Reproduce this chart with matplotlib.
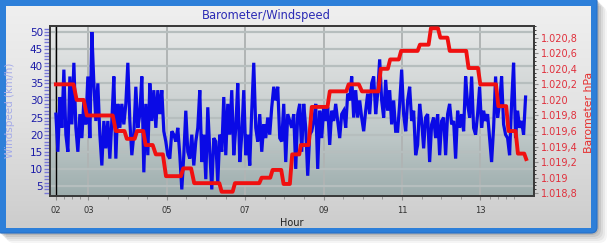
import numpy as np
import matplotlib
matplotlib.use('Agg')
import matplotlib.pyplot as plt
from matplotlib.patches import FancyBboxPatch
from matplotlib.colors import LinearSegmentedColormap
from matplotlib.ticker import FuncFormatter, MultipleLocator, FixedLocator

# windspeed readings (km/h), one every ~3 minutes from about 02:10
wind_start = 2.17
wind_step = 0.051
windspeed = [
    26, 15, 31, 22, 39, 20, 15, 37, 23, 41, 22, 15, 26, 19, 30, 23, 37, 19, 50, 35, 24, 35, 20, 11, 24, 16, 24, 13, 24, 37,
    13, 29, 22, 29, 23, 29, 41, 24, 14, 20, 34, 22, 26, 37, 9, 29, 14, 35, 24, 33, 22, 33, 26, 33, 21, 18, 14, 13, 21, 20,
    18, 22, 14, 4, 14, 27, 15, 13, 20, 11, 18, 22, 33, 12, 20, 7, 28, 15, 4, 19, 18, 6, 20, 15, 31, 14, 29, 20, 33, 14,
    22, 35, 12, 20, 33, 14, 20, 11, 27, 41, 22, 18, 26, 15, 23, 19, 25, 20, 28, 34, 30, 34, 19, 18, 29, 12, 26, 24, 22, 26,
    10, 26, 29, 15, 29, 22, 8, 20, 21, 24, 29, 10, 27, 19, 28, 24, 28, 17, 27, 24, 29, 24, 19, 26, 27, 22, 32, 30, 37, 25,
    33, 25, 30, 25, 21, 27, 32, 26, 35, 37, 26, 32, 42, 30, 25, 36, 27, 33, 23, 30, 21, 21, 29, 39, 26, 21, 30, 34, 24, 27,
    14, 17, 29, 24, 16, 25, 26, 12, 23, 25, 19, 26, 14, 24, 25, 14, 26, 29, 23, 24, 13, 27, 22, 26, 21, 37, 29, 25, 37, 22,
    20, 26, 34, 22, 27, 24, 26, 19, 12, 22, 37, 25, 29, 37, 23, 20, 19, 14, 29, 41, 19, 27, 22, 24, 20, 31,
]

# barometer (hPa), readings at the corners of each step
baro_hours = [
    2.17, 2.62, 2.70, 2.88, 2.96, 3.62, 3.70, 3.92, 3.98, 4.18, 4.24, 4.40, 4.46, 4.64, 4.72, 4.90,
    4.98, 5.36, 5.42, 5.62, 5.70, 6.34, 6.40, 6.68, 6.74, 7.36, 7.42, 7.64, 7.70, 7.92, 7.98, 8.14,
    8.20, 8.38, 8.42, 8.62, 8.70, 9.10, 9.16, 9.58, 9.64, 9.90, 9.98, 10.40, 10.46, 10.64, 10.70,
    10.92, 10.98, 11.40, 11.46, 11.68, 11.74, 11.92, 11.98, 12.16, 12.22, 12.64, 12.70, 12.94, 13.00,
    13.40, 13.46, 13.66, 13.72, 13.90, 13.96, 14.12, 14.17,
]
baro_hpa = [
    1020.2, 1020.2, 1020.0, 1020.0, 1019.8, 1019.8, 1019.6, 1019.6, 1019.5, 1019.5, 1019.6, 1019.6, 1019.42, 1019.42, 1019.3, 1019.3,
    1019.02, 1019.02, 1019.12, 1019.12, 1018.93, 1018.93, 1018.82, 1018.82, 1018.93, 1018.93, 1019.0, 1019.0, 1019.1, 1019.1, 1018.92, 1018.92,
    1019.3, 1019.3, 1019.42, 1019.42, 1019.91, 1019.91, 1020.11, 1020.11, 1020.2, 1020.2, 1020.11, 1020.11, 1020.4, 1020.4, 1020.52,
    1020.52, 1020.63, 1020.63, 1020.71, 1020.71, 1020.92, 1020.92, 1020.8, 1020.8, 1020.63, 1020.63, 1020.41, 1020.41, 1020.2,
    1020.2, 1019.92, 1019.92, 1019.6, 1019.6, 1019.31, 1019.31, 1019.24,
]

x_ticks = [2.17, 3, 5, 7, 9, 11, 13]
x_labels = ['02', '03', '05', '07', '09', '11', '13']
x_minor = [2.38, 2.59, 2.79, 3.5, 4, 4.5, 5.5, 6, 6.5, 7.5, 8, 8.5, 9.5, 10, 10.5, 11.5, 12, 12.5, 13.25, 13.45, 13.65, 13.85]
wind_ticks = [5, 10, 15, 20, 25, 30, 35, 40, 45, 50]
baro_ticks = [1018.8, 1019.0, 1019.2, 1019.4, 1019.6, 1019.8, 1020.0, 1020.2, 1020.4, 1020.6, 1020.8]

W, H = 611, 246
fig = plt.figure(figsize=(W / 100, H / 100), dpi=100, facecolor='white')

# window frame with shadow
bg = fig.add_axes([0, 0, 1, 1], zorder=-10)
bg.set_xlim(0, W)
bg.set_ylim(H, 0)
bg.axis('off')
for off, a in [(10, 0.04), (8, 0.05), (6, 0.06), (4, 0.08), (2, 0.1)]:
    bg.add_patch(FancyBboxPatch((-4 + off, -4 + off), 601, 237, boxstyle='round,pad=0,rounding_size=8',
                                fc='black', ec='none', alpha=a))
bg.add_patch(FancyBboxPatch((-4, -4), 601, 237, boxstyle='round,pad=0,rounding_size=6',
                            fc='#2d7fd9', ec='#2770c8', lw=0.8))
panel = np.linspace(0, 1, 100).reshape(-1, 1)
panel_cmap = LinearSegmentedColormap.from_list('panel', ['#efefef', '#e2e2e2', '#cdcdcd'])
bg.imshow(panel, cmap=panel_cmap, extent=(6, 591, 228, 6), aspect='auto', origin='upper', zorder=2)

# plot area
ax = fig.add_axes([50 / W, 50 / H, 484 / W, 170 / H])
grad = np.linspace(0, 1, 200).reshape(-1, 1)
plot_cmap = LinearSegmentedColormap.from_list('plotbg', ['#e6e8e8', '#d4d8d8', '#bcc6c6', '#9dadad'])
ax.imshow(grad, cmap=plot_cmap, extent=(0, 1, 0, 1), origin='upper', transform=ax.transAxes,
          aspect='auto', zorder=0)

wind_hours = wind_start + wind_step * np.arange(len(windspeed))
ax.plot(wind_hours, windspeed, color='#0a0ae6', lw=2.3, solid_joinstyle='miter', zorder=3)
ax.axvline(x_ticks[0], color='black', lw=1.0, zorder=1)

ax.set_xlim(2.02, 14.37)
ax.set_ylim(2.08, 51.75)
ax.set_xticks(x_ticks)
ax.set_xticklabels(x_labels)
ax.xaxis.set_minor_locator(FixedLocator(x_minor))
ax.set_yticks(wind_ticks)
ax.yaxis.set_minor_locator(MultipleLocator(1))
ax.set_axisbelow(True)
ax.grid(axis='y', color='#b6bebe', lw=1.6)
ax.grid(axis='x', color='#b0b4b4', lw=1.4)
ax.tick_params(axis='x', which='both', colors='#8a8a8a', labelcolor='#303030', labelsize=6, length=3, pad=4)
ax.tick_params(axis='x', which='minor', length=2)
ax.tick_params(axis='y', which='both', colors='#7878d8', labelcolor='#1c1ca8', labelsize=7.5,
               length=4, width=1, pad=1)
for s in ax.spines.values():
    s.set_color('#3a3a3a')
    s.set_linewidth(1.3)

ax2 = ax.twinx()
ax2.patch.set_visible(False)
ax2.plot(baro_hours, baro_hpa, color='#f01010', lw=2.8, solid_joinstyle='round', zorder=4)
ax2.set_ylim(1018.765, 1020.95)
ax2.set_yticks(baro_ticks)
ax2.yaxis.set_minor_locator(MultipleLocator(0.05))


def baro_fmt(v, pos):
    v = round(v, 1)
    whole = int(v)
    s = '{:,}'.format(whole).replace(',', '.')
    frac = round((v - whole) * 10)
    return s if frac == 0 else '{},{}'.format(s, frac)


ax2.yaxis.set_major_formatter(FuncFormatter(baro_fmt))
ax2.tick_params(axis='y', which='major', colors='#909090', labelcolor='#e0303c', labelsize=7.0, length=3, pad=2)
ax2.tick_params(axis='y', which='minor', colors='#202020', length=1.5)
for s in ax2.spines.values():
    s.set_color('#3a3a3a')
    s.set_linewidth(1.3)

fig.text(266 / W, 1 - 15.5 / H, 'Barometer/Windspeed', color='#2b2bb5', fontsize=8.3, ha='center', va='center')
fig.text(10 / W, 1 - 110 / H, 'Windspeed (km/h)', color='#a4aae8', fontsize=7.5, rotation=90,
         ha='center', va='center')
fig.text(589 / W, 1 - 112 / H, 'Barometer hPa', color='#e53030', fontsize=7.8, rotation=90,
         ha='center', va='center')
fig.text(292 / W, 1 - 222.5 / H, 'Hour', color='#202020', fontsize=7, ha='center', va='center')

fig.savefig('out.png', dpi=100, facecolor='white')
